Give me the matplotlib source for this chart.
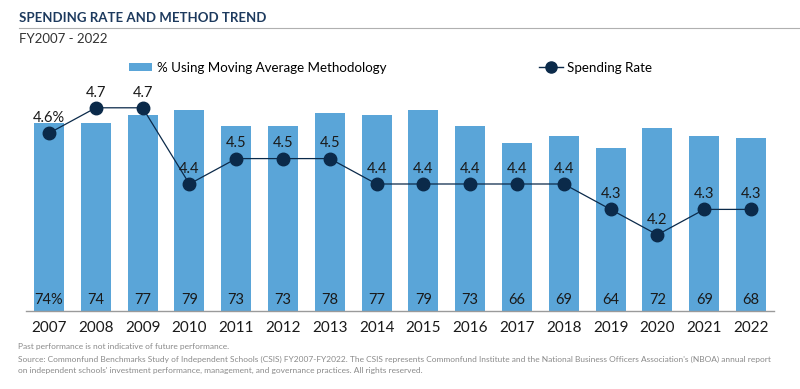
import matplotlib
matplotlib.use("Agg")
import matplotlib.pyplot as plt
from matplotlib.lines import Line2D
from matplotlib.patches import Patch

plt.rcParams['font.family'] = ['Lato', 'DejaVu Sans']

years = ['2007', '2008', '2009', '2010', '2011', '2012', '2013', '2014',
         '2015', '2016', '2017', '2018', '2019', '2020', '2021', '2022']
moving_avg_pct = [74, 74, 77, 79, 73, 73, 78, 77, 79, 73, 66, 69, 64, 72, 69, 68]
spending_rate = [4.6, 4.7, 4.7, 4.4, 4.5, 4.5, 4.5, 4.4, 4.4, 4.4, 4.4, 4.4,
                 4.3, 4.2, 4.3, 4.3]

bar_color = '#5AA5D8'
navy = '#0B2A4A'
title_color = '#1D3A5E'
gray_text = '#8A8A8A'

fig = plt.figure(figsize=(8, 3.89), dpi=100)
ax = fig.add_axes([0.032, 0.2005, 0.936, 0.653])
x = list(range(len(years)))

ax.bar(x, moving_avg_pct, width=0.64, color=bar_color, zorder=1)
ax.set_ylim(0, 100)
ax.set_xlim(-0.5, len(years) - 0.5)
for i, v in enumerate(moving_avg_pct):
    lbl = f'{v}%' if i == 0 else str(v)
    ax.text(i, 4.5, lbl, ha='center', va='center', fontsize=10.5, color='#1a1a1a')

ax.set_xticks(x)
ax.set_xticklabels(years, fontsize=11, color='#1a1a1a')
ax.tick_params(axis='x', length=0, pad=7)
ax.set_yticks([])
for s in ['top', 'left', 'right']:
    ax.spines[s].set_visible(False)
ax.spines['bottom'].set_color('#9a9a9a')
ax.spines['bottom'].set_linewidth(1)

ax2 = ax.twinx()
ax2.plot(x, spending_rate, color=navy, linewidth=0.9, marker='o',
         markersize=9, markerfacecolor=navy, markeredgecolor=navy, zorder=3)
ax2.set_ylim(3.9, 4.9)
ax2.set_yticks([])
for s in ['top', 'left', 'right', 'bottom']:
    ax2.spines[s].set_visible(False)
for i, v in enumerate(spending_rate):
    lbl = f'{v}%' if i == 0 else f'{v}'
    ax2.annotate(lbl, (i, v), xytext=(0, 11), textcoords='offset points',
                 ha='center', va='center', fontsize=10.5, color='#1a1a1a')

# legend
handles = [Patch(facecolor=bar_color, edgecolor='none'),
           Line2D([], [], color=navy, linewidth=1, marker='o', markersize=8)]
fig.legend(handles[:1], ['% Using Moving Average Methodology'],
           loc='center left', bbox_to_anchor=(0.146, 0.825), frameon=False,
           fontsize=9.6, handlelength=1.75, handleheight=0.55, handletextpad=0.4)
fig.legend(handles[1:], ['Spending Rate'],
           loc='center left', bbox_to_anchor=(0.659, 0.825), frameon=False,
           fontsize=9.6, handlelength=1.75, handletextpad=0.3)

# title block
fig.text(0.024, 0.953, 'SPENDING RATE AND METHOD TREND', fontsize=9.5,
         fontweight='bold', color=title_color, va='center')
fig.add_artist(Line2D([0.024, 1.0], [0.929, 0.929], color='#b0b0b0',
                      linewidth=0.8, transform=fig.transFigure))
fig.text(0.024, 0.900, 'FY2007 - 2022', fontsize=9.5, color='#333333',
         va='center')

# footnotes
fig.text(0.022, 0.108, 'Past performance is not indicative of future performance.',
         fontsize=6, color=gray_text, va='center')
fig.text(0.022, 0.077,
         'Source: Commonfund Benchmarks Study of Independent Schools (CSIS) '
         'FY2007-FY2022. The CSIS represents Commonfund Institute and the '
         "National Business Officers Association's (NBOA) annual report",
         fontsize=6, color=gray_text, va='center')
fig.text(0.022, 0.048,
         "on independent schools' investment performance, management, and "
         'governance practices. All rights reserved.',
         fontsize=6, color=gray_text, va='center')

fig.savefig('out.png', dpi=100)
